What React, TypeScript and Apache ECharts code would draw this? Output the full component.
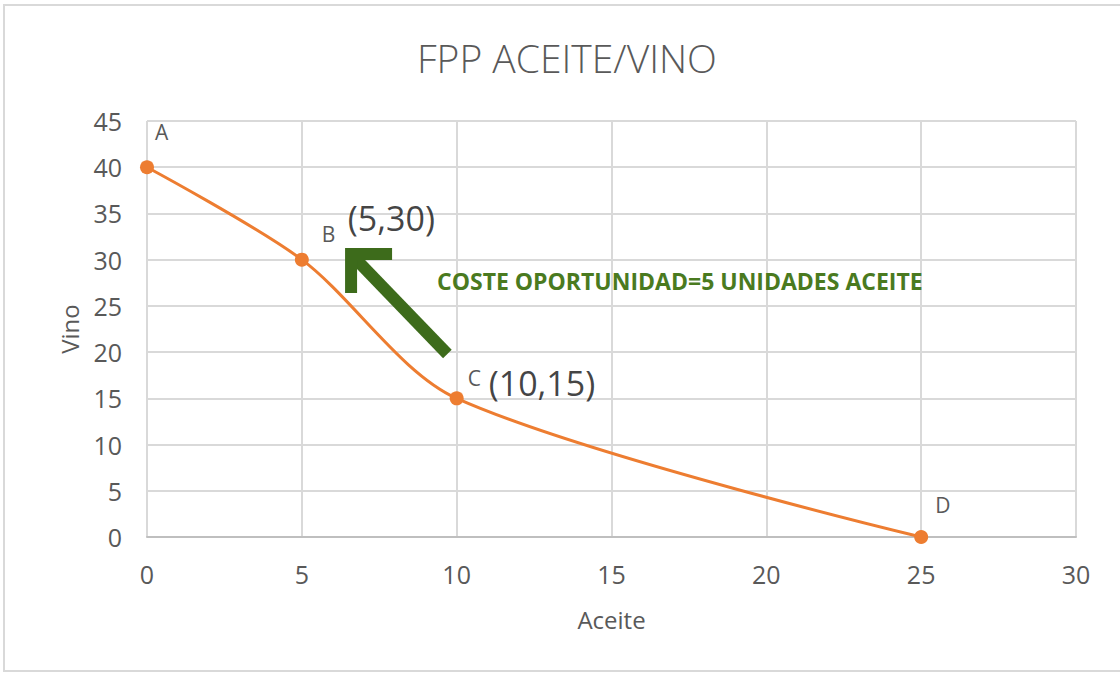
import React, { useEffect, useRef } from "react";
import * as echarts from "echarts";

const pointNames = ["A", "B", "C", "D"];
const aceite = [0, 5, 10, 25];
const vino = [40, 30, 15, 0];

const coordLabels = [
  { x: 5, y: 30, text: "(5,30)" },
  { x: 10, y: 15, text: "(10,15)" },
];

const arrowFrom = [9.7, 19.8];
const arrowTo = [6.59, 30.6];
const arrowNote = "COSTE OPORTUNIDAD=5 UNIDADES ACEITE";

// layout-only offsets for labels (pixels)
const pointLabelOffsets = [
  [-4, -35],
  [8, -26],
  [-1, -20],
  [2, -32],
];
const coordLabelOffsets = [
  [41, -42],
  [27, -15],
];

const ORANGE = "#ED7D31";
const GREEN = "#3D6B1B";
const GRAY = "#595959";
const GRID = "#D9D9D9";
const FONT = "'Open Sans', 'Noto Sans', sans-serif";

export default function App() {
  const ref = useRef<HTMLDivElement>(null);
  useEffect(() => {
    if (!ref.current) return;
    const chart = echarts.init(ref.current, undefined, { renderer: "svg" });
    const option: any = {
      animation: false,
      backgroundColor: "#fff",
      title: {
        text: "FPP ACEITE/VINO",
        left: 412,
        top: 33,
        textStyle: { fontFamily: FONT, fontSize: 39, fontWeight: 300, color: GRAY },
      },
      grid: { left: 147, right: 44, top: 121, bottom: 136 },
      xAxis: {
        type: "value",
        min: 0,
        max: 30,
        interval: 5,
        name: "Aceite",
        nameLocation: "middle",
        nameGap: 70,
        nameTextStyle: { fontFamily: FONT, fontSize: 24, color: GRAY },
        axisLine: { show: true, lineStyle: { color: "#BFBFBF", width: 2 } },
        axisTick: { show: false },
        axisLabel: { fontFamily: FONT, fontSize: 25, color: GRAY, margin: 24 },
        splitLine: { show: true, lineStyle: { color: GRID, width: 2 } },
      },
      yAxis: {
        type: "value",
        min: 0,
        max: 45,
        interval: 5,
        name: "Vino",
        nameLocation: "middle",
        nameGap: 66,
        nameRotate: 90,
        nameTextStyle: { fontFamily: FONT, fontSize: 24, color: GRAY },
        axisLine: { show: false },
        axisTick: { show: false },
        axisLabel: { fontFamily: FONT, fontSize: 25, color: GRAY, margin: 25 },
        splitLine: { show: true, lineStyle: { color: GRID, width: 2 } },
      },
      series: [
        {
          type: "line",
          smooth: 0.3,
          data: aceite.map((x, i) => ({
            value: [x, vino[i]],
            name: pointNames[i],
            label: { offset: pointLabelOffsets[i] },
          })),
          symbol: "circle",
          symbolSize: 14,
          itemStyle: { color: ORANGE },
          lineStyle: { color: ORANGE, width: 3 },
          label: {
            show: true,
            position: "right",
            formatter: (p: any) => p.name,
            fontFamily: FONT,
            fontSize: 21,
            color: GRAY,
          },
          z: 3,
        },
        {
          type: "scatter",
          symbolSize: 0,
          data: coordLabels.map((c, i) => ({
            value: [c.x, c.y],
            name: c.text,
            label: { offset: coordLabelOffsets[i] },
          })),
          label: {
            show: true,
            position: "right",
            distance: 5,
            formatter: (p: any) => p.name,
            fontFamily: FONT,
            fontSize: 34,
            color: "#111",
          },
          silent: true,
          z: 4,
        },
      ],
    };
    chart.setOption(option);

    const p0 = chart.convertToPixel({ gridIndex: 0 }, arrowFrom) as number[];
    const p1 = chart.convertToPixel({ gridIndex: 0 }, arrowTo) as number[];
    const dx = p0[0] - p1[0];
    const dy = p0[1] - p1[1];
    const len = Math.sqrt(dx * dx + dy * dy);
    const ux = dx / len;
    const uy = dy / len;
    chart.setOption({
      graphic: [
        {
          type: "rect",
          shape: { x: 4, y: 5, width: 1130, height: 666 },
          style: { fill: "none", stroke: GRID, lineWidth: 2 },
          silent: true,
          z: -10,
        },
        {
          type: "line",
          shape: { x1: p0[0], y1: p0[1], x2: p1[0] + ux * 4, y2: p1[1] + uy * 4 },
          style: { stroke: GREEN, lineWidth: 12 },
          z: 10,
        },
        {
          type: "polyline",
          shape: {
            points: [
              [p1[0] + 41, p1[1]],
              [p1[0], p1[1]],
              [p1[0], p1[1] + 39],
            ],
          },
          style: { stroke: GREEN, lineWidth: 12, fill: "none", lineJoin: "miter" },
          z: 10,
        },
        {
          type: "text",
          x: 437,
          y: 281,
          style: {
            text: arrowNote,
            fontFamily: FONT,
            fontWeight: "bold",
            fontSize: 23,
            fill: "#4A7A1F",
            verticalAlign: "middle",
          },
          z: 10,
        },
      ],
    });
    return () => chart.dispose();
  }, []);
  return (
    <div
      ref={ref}
      style={{ position: "fixed", left: 0, top: 0, width: 1120, height: 673 }}
    />
  );
}
